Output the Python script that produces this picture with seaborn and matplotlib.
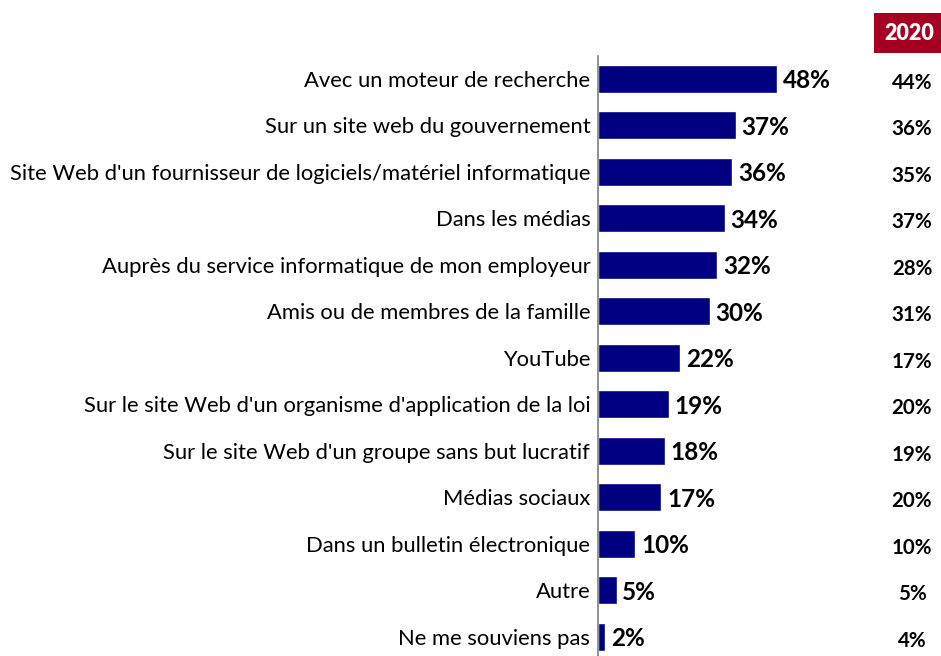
import pandas as pd
import matplotlib.pyplot as plt
import seaborn as sns

labels = ["Avec un moteur de recherche",
          "Sur un site web du gouvernement",
          "Site Web d'un fournisseur de logiciels/matériel informatique",
          "Dans les médias",
          "Auprès du service informatique de mon employeur",
          "Amis ou de membres de la famille",
          "YouTube",
          "Sur le site Web d'un organisme d'application de la loi",
          "Sur le site Web d'un groupe sans but lucratif",
          "Médias sociaux",
          "Dans un bulletin électronique",
          "Autre",
          "Ne me souviens pas"]
values_2022 = [48, 37, 36, 34, 32, 30, 22, 19, 18, 17, 10, 5, 2]
values_2020 = [44, 36, 35, 37, 28, 31, 17, 20, 19, 20, 10, 5, 4]

df = pd.DataFrame({"label": labels, "value": values_2022})

sns.set_style("white")
plt.rcParams['font.family'] = ['Lato', 'DejaVu Sans']

fig = plt.figure(figsize=(9.41, 6.56), dpi=100)
ax = fig.add_axes([598/941, 0, 1 - 598/941, 600/656])

sns.barplot(data=df, y="label", x="value", orient="h", color="#000080",
            width=0.6, saturation=1, ax=ax)

ax.set_xlim(0, 343/3.73)
ax.set_ylim(12.41, -0.49)
ax.set_xlabel("")
ax.set_ylabel("")
ax.set_xticks([])
ax.tick_params(axis="y", length=0, pad=5.5, labelsize=15.8, labelcolor="black")
for s in ["top", "right", "bottom"]:
    ax.spines[s].set_visible(False)
ax.spines["left"].set_color("#7f7f7f")
ax.spines["left"].set_linewidth(1.2)

for i, v in enumerate(values_2022):
    ax.text(v + 1.5, i + 0.04, f"{v}%", va="center", ha="left",
            fontsize=17.5, fontweight="bold", color="black")

tr = ax.get_yaxis_transform()
for i, v in enumerate(values_2020):
    ax.text((912 - 598) / 343, i + 0.08, f"{v}%", transform=tr, va="center",
            ha="center", fontsize=14.8, fontweight="bold", color="black")

fig.text(909/941, 1 - 33/656, "2020", ha="center", va="center", fontsize=15.5,
         fontweight="heavy", color="white",
         bbox=dict(boxstyle="square,pad=0.45", fc="#A50021", ec="none"))

fig.savefig("out.png", dpi=100)
